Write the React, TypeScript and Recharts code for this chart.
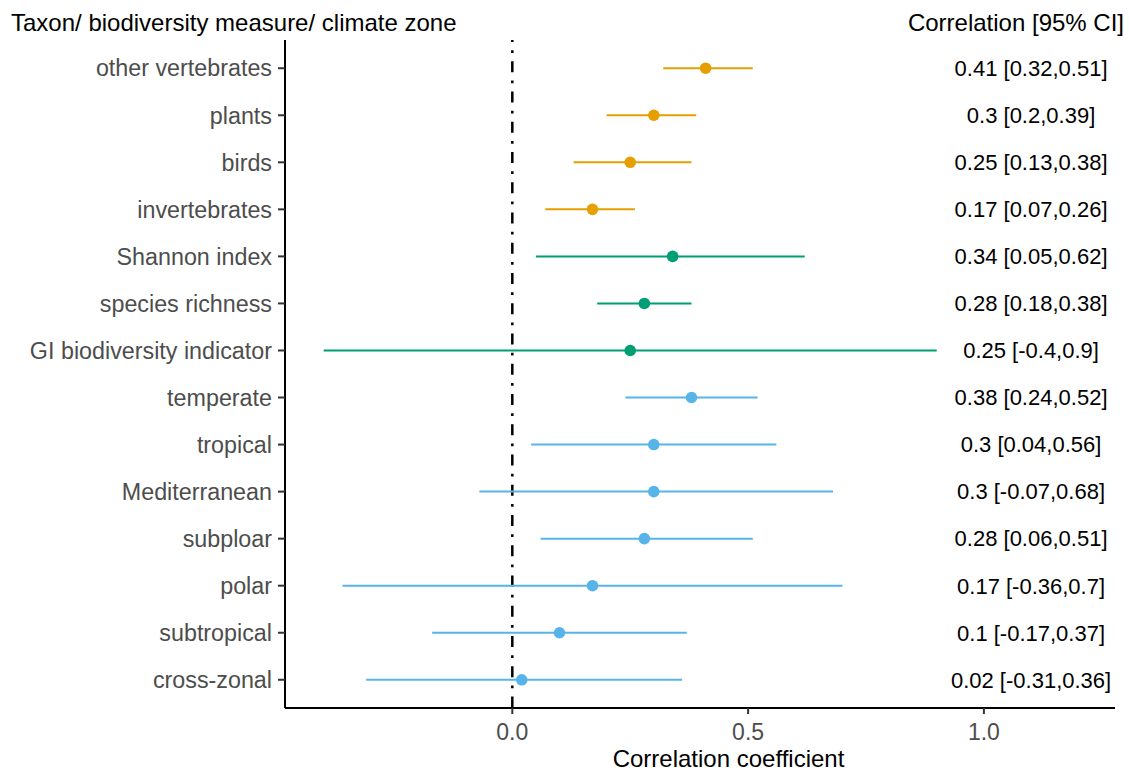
import {
  ScatterChart,
  Scatter,
  XAxis,
  YAxis,
  ReferenceLine,
} from 'recharts';

// Forest plot rows, top to bottom
const rowLabels = [
  'other vertebrates',
  'plants',
  'birds',
  'invertebrates',
  'Shannon index',
  'species richness',
  'GI biodiversity indicator',
  'temperate',
  'tropical',
  'Mediterranean',
  'subploar',
  'polar',
  'subtropical',
  'cross-zonal',
];
const estimates = [0.41, 0.3, 0.25, 0.17, 0.34, 0.28, 0.25, 0.38, 0.3, 0.3, 0.28, 0.17, 0.1, 0.02];
const lowerCI = [0.32, 0.2, 0.13, 0.07, 0.05, 0.18, -0.4, 0.24, 0.04, -0.07, 0.06, -0.36, -0.17, -0.31];
const upperCI = [0.51, 0.39, 0.38, 0.26, 0.62, 0.38, 0.9, 0.52, 0.56, 0.68, 0.51, 0.7, 0.37, 0.36];
// 0 = taxon, 1 = biodiversity measure, 2 = climate zone
const groupIndex = [0, 0, 0, 0, 1, 1, 1, 2, 2, 2, 2, 2, 2, 2];
const groupColors = ['#E69F00', '#009E73', '#56B4E9'];
const xTicks = [0, 0.5, 1];
const yDomain = [0.4, 14.6];
const labelX = 1.1;

const rows = rowLabels.map((name, i) => ({
  name,
  y: i + 1,
  x: estimates[i],
  lo: lowerCI[i],
  hi: upperCI[i],
  group: groupIndex[i],
  text: `${estimates[i]} [${lowerCI[i]},${upperCI[i]}]`,
}));

const labelRows = rows.map((r) => ({ x: labelX, y: r.y, text: r.text }));

const FONT = "Arial, 'Liberation Sans', Helvetica, sans-serif";

export default function App() {
  return (
    <div
      style={{
        position: 'absolute',
        left: 0,
        top: 0,
        width: 1130,
        height: 771,
        background: '#fff',
        fontFamily: FONT,
      }}
    >
      <ScatterChart
        width={1130}
        height={771}
        margin={{ top: 40, right: 15, bottom: 0, left: 0 }}
      >
        <XAxis
          type="number"
          dataKey="x"
          domain={[-0.482, 1.278]}
          allowDataOverflow
          ticks={xTicks}
          tickFormatter={(v: number) => v.toFixed(1)}
          height={63}
          axisLine={{ stroke: '#000', strokeWidth: 2 }}
          tickLine={{ stroke: '#333', strokeWidth: 2 }}
          tickSize={6}
          tickMargin={10}
          tick={{ fill: '#4D4D4D', fontSize: 23 }}
        />
        <YAxis
          type="number"
          dataKey="y"
          domain={yDomain}
          reversed
          allowDataOverflow
          ticks={rows.map((r) => r.y)}
          interval={0}
          tickFormatter={(v: number) => rowLabels[v - 1]}
          width={285}
          axisLine={{ stroke: '#000', strokeWidth: 2 }}
          tickLine={{ stroke: '#333', strokeWidth: 2 }}
          tickSize={7}
          tickMargin={6}
          tick={{ fill: '#4D4D4D', fontSize: 23.3 }}
        />
        {/* dot-dash zero line, drawn top to bottom */}
        <ReferenceLine
          segment={[
            { x: 0, y: yDomain[0] },
            { x: 0, y: yDomain[1] },
          ]}
          stroke="#000"
          strokeWidth={2.5}
          strokeDasharray="2.75 8.25 11 8.25"
          strokeDashoffset={19.95}
        />
        {rows.map((r) => (
          <ReferenceLine
            key={r.name}
            segment={[
              { x: r.lo, y: r.y },
              { x: r.hi, y: r.y },
            ]}
            stroke={groupColors[r.group]}
            strokeWidth={2}
            ifOverflow="visible"
          />
        ))}
        {groupColors.map((color, g) => (
          <Scatter
            key={color}
            data={rows.filter((r) => r.group === g)}
            fill={color}
            isAnimationActive={false}
            shape={(p: any) => <circle cx={p.cx} cy={p.cy} r={5.8} fill={color} />}
          />
        ))}
        <Scatter
          data={labelRows}
          isAnimationActive={false}
          shape={(p: any) => (
            <text
              x={p.cx}
              y={p.cy}
              dy="0.355em"
              textAnchor="middle"
              fontSize={22}
              fill="#000"
            >
              {p.payload.text}
            </text>
          )}
        />
      </ScatterChart>
      <svg
        width={1130}
        height={771}
        style={{ position: 'absolute', left: 0, top: 0, pointerEvents: 'none' }}
      >
        <text x={11} y={31} fontSize={24} fill="#000">
          Taxon/ biodiversity measure/ climate zone
        </text>
        <text x={1124} y={31} fontSize={24} fill="#000" textAnchor="end">
          Correlation [95% CI]
        </text>
        <text x={728.5} y={767} fontSize={24} fill="#000" textAnchor="middle">
          Correlation coefficient
        </text>
      </svg>
    </div>
  );
}
